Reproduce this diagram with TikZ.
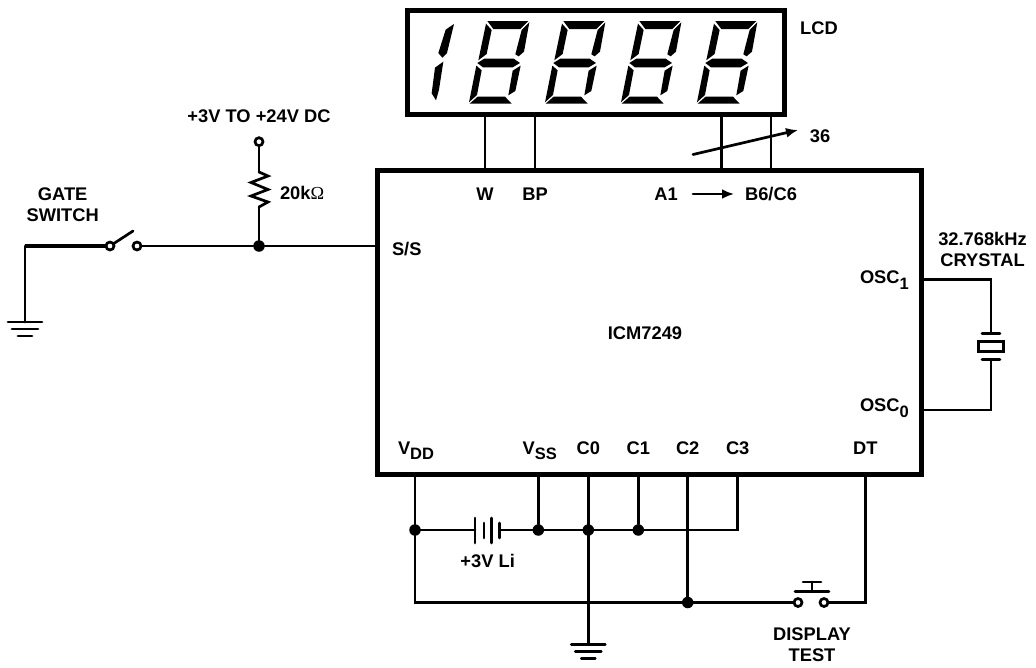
\documentclass[tikz,border=0pt]{standalone}
\usepackage{fontspec}
\setmainfont{Liberation Sans}
\newfontfamily\omegafont{Liberation Serif}
\usetikzlibrary{calc}
\usetikzlibrary{arrows.meta}
\tikzset{
    wire/.style={line width=2.7pt,line cap=round,line join=miter},
    heavywire/.style={line width=3.6pt},
    boxline/.style={draw,line width=5pt,rectangle,inner sep=0pt,outer sep=0pt},
    pinlabel/.style={inner sep=0pt,outer sep=0pt,align=center,font=\fontsize{18.3}{21}\selectfont\bfseries},
    junction/.style={circle,fill=black,inner sep=0pt,outer sep=0pt,minimum size=11.5pt},
    contact/.style={circle,draw,fill=white,line width=2.7pt,inner sep=0pt,outer sep=0pt,minimum size=8pt},
    segment/.style={fill=black,draw=none},
    pointer/.style={wire,-{Latex[length=12pt,width=10pt]}}
}
% subscript as printed on the pin labels
\newcommand{\lowtext}[1]{\raisebox{-0.32em}{\fontsize{16.5}{16.5}\selectfont #1}}
% three bars of a ground symbol
\newcommand{\groundbars}[1]{
    \draw[wire] ($(#1)+(-17,0)$) -- ($(#1)+(17,0)$);
    \draw[wire] ($(#1)+(-13,7)$) -- ($(#1)+(13,7)$);
    \draw[wire] ($(#1)+(-7,14)$) -- ($(#1)+(7,14)$);
}
% seven segments of one digit, drawn in units of a third of a pixel
\newcommand{\digitsegs}{
    \fill[segment] (187,18) -- (310,18) -- (286,42) -- (205,42) -- cycle;
    \fill[segment] (183,26) -- (200,45) -- (185,117) -- (160,136) -- cycle;
    \fill[segment] (313,22) -- (297,110) -- (281,124) -- (271,118) -- (290,45) -- cycle;
    \fill[segment] (157,144) -- (178,131) -- (266,131) -- (285,144) -- (263,157) -- (174,157) -- cycle;
    \fill[segment] (154,152) -- (170,166) -- (156,240) -- (132,262) -- cycle;
    \fill[segment] (287,152) -- (271,228) -- (250,241) -- (263,167) -- cycle;
    \fill[segment] (134,266) -- (158,245) -- (240,245) -- (260,266) -- cycle;
}
\begin{document}
\begin{tikzpicture}[x=1pt,y=-1pt]
    \useasboundingbox (0,0) rectangle (1036,667);
    % display and chip
    \node[boxline,minimum width=377pt,minimum height=104pt] (lcd) at (596,62) {};
    \node[boxline,minimum width=544pt,minimum height=304pt] (chip) at (649.5,322) {};
    \begin{scope}[shift={(425,15)},x=0.3333pt,y=-0.3333pt]
        \fill[segment] (87,27) -- (62,44) -- (40,114) -- (52,128) -- (66,114) -- cycle;
        \fill[segment] (55,140) -- (30,158) -- (20,235) -- (33,256) -- (42,224) -- cycle;
        \foreach \dx in {0,228,456,684} {
            \begin{scope}[xshift=\dx*0.3333pt]
                \digitsegs
            \end{scope}
        }
    \end{scope}
    \node[pinlabel] (lcdname) at (819,28) {LCD};
    \node[pinlabel] (icname) at (645,333) {ICM7249};
    % top pins
    \node[pinlabel] (w) at (485,194) {W};
    \node[pinlabel] (bp) at (535,194) {BP};
    \node[pinlabel] (aone) at (666,194) {A1};
    \node[pinlabel] (bsix) at (771,194) {B6/C6};
    \coordinate (afirst) at (721.7,170);
    \draw[wire] (w |- lcd.south) -- (w |- chip.north);
    \draw[wire] (bp |- lcd.south) -- (bp |- chip.north);
    \draw[wire] (afirst |- lcd.south) -- (afirst);
    \draw[wire] (bsix |- lcd.south) -- (bsix |- chip.north);
    \coordinate (slantA) at (693,154.5);
    \coordinate (slantB) at (798,130);
    \draw[pointer] (slantA) -- (slantB);
    \node[pinlabel] (count) at (820,136) {36};
    \coordinate (spanA) at (693,194);
    \coordinate (spanB) at (734,194);
    \draw[pointer] (spanA) -- (spanB);
    % gate switch side
    \node[pinlabel] (gate) at (62.7,204.5) {GATE\\SWITCH};
    \node[pinlabel] (supply) at (259,116) {+3V TO +24V DC};
    \node[pinlabel,anchor=west] (rval) at (280,193) {20k{\omegafont\mdseries Ω}};
    \node[pinlabel,anchor=west] (ss) at (392,249) {S/S};
    \node[junction] (gatejoin) at (259,246) {};
    \node[contact] (swA) at (110,246) {};
    \node[contact] (swB) at (137,246) {};
    \node[contact] (vin) at (259,141.7) {};
    \coordinate (corner) at (25,246);
    \coordinate (gndA) at (25,322);
    \coordinate (bladeEnd) at (133,231);
    \coordinate (rtop) at (259,172);
    \coordinate (rbot) at (259,207);
    \draw[heavywire] (swA) -- (corner);
    \draw[wire] (corner) -- (gndA);
    \groundbars{gndA}
    \draw[wire] (swA) -- (bladeEnd);
    \draw[wire] (swB) -- (gatejoin);
    \draw[wire] (gatejoin) -- (gatejoin -| chip.west);
    \draw[wire] (vin) -- (rtop);
    \draw[wire] (rtop) -- ++(9,4) -- ++(-17,6.5) -- ++(17,7) -- ++(-17,6.5) -- ++(17,6) -- (rbot);
    \draw[wire] (rbot) -- (gatejoin);
    % crystal
    \node[pinlabel] (xtal) at (982.5,249) {32.768kHz\\CRYSTAL};
    \node[pinlabel,anchor=west] (oscB) at (860,280) {OSC\lowtext{1}};
    \node[pinlabel,anchor=west] (oscA) at (860,408) {OSC\lowtext{0}};
    \node[draw,rectangle,line width=2.7pt,minimum width=25pt,minimum height=10pt,inner sep=0pt,outer sep=0pt] (quartz) at (991,346.3) {};
    \coordinate (plateT) at (991,333.5);
    \coordinate (plateB) at (991,359.3);
    \coordinate (oscTop) at (991,279.5);
    \coordinate (oscBot) at (991,410);
    \draw[wire] (oscTop -| chip.east) -- (oscTop) -- (plateT);
    \draw[wire] (oscBot -| chip.east) -- (oscBot) -- (plateB);
    \draw[wire] ($(plateT)+(-9,0)$) -- ($(plateT)+(9,0)$);
    \draw[wire] ($(plateB)+(-9,0)$) -- ($(plateB)+(9,0)$);
    % bottom pins
    \node[pinlabel,anchor=base west] (vdd) at (398,454) {V\lowtext{DD}};
    \node[pinlabel,anchor=base west] (vss) at (522.7,454) {V\lowtext{SS}};
    \node[pinlabel] (czero) at (588.3,448) {C0};
    \node[pinlabel] (cone) at (638.3,448) {C1};
    \node[pinlabel] (ctwo) at (687.7,448) {C2};
    \node[pinlabel] (cthree) at (737.7,448) {C3};
    \node[pinlabel] (dt) at (865.3,448) {DT};
    \node[junction] (jvdd) at (415,530) {};
    \node[junction] (jvss) at (538.3,530) {};
    \node[junction] (jczero) at (588.3,530) {};
    \node[junction] (jcone) at (638.3,530) {};
    \node[junction] (jctwo) at (687.7,602.5) {};
    \node[contact] (dtA) at (798,602.5) {};
    \node[contact] (dtB) at (824,602.5) {};
    \coordinate (vddlow) at (415,602.5);
    \coordinate (cthreelow) at (737.7,530);
    \coordinate (dtlow) at (865.3,602.5);
    \coordinate (gndB) at (588.3,644.5);
    \draw[wire] (jvdd |- chip.south) -- (jvdd) -- (vddlow) -- (jctwo);
    \draw[wire] (jctwo) -- (dtA);
    \draw[wire] (dtB) -- (dtlow) -- (dtlow |- chip.south);
    \draw[wire] (jvss |- chip.south) -- (jvss);
    \draw[wire] (jczero |- chip.south) -- (gndB);
    \groundbars{gndB}
    \draw[wire] (jcone |- chip.south) -- (jcone);
    \draw[wire] (jctwo |- chip.south) -- (jctwo);
    \draw[wire] (cthreelow |- chip.south) -- (cthreelow) -- (jvss);
    % battery
    \coordinate (cellA) at (475,530);
    \coordinate (cellB) at (499.3,530);
    \draw[wire] (jvdd) -- (cellA);
    \draw[wire] (cellB) -- (jvss);
    \draw[wire] (475,518) -- (475,543);
    \draw[wire] (484,523) -- (484,538);
    \draw[wire] (491.7,518) -- (491.7,543);
    \draw[wire] (499.3,523) -- (499.3,538);
    \node[pinlabel] (cellname) at (487.7,560.7) {+3V Li};
    % push button
    \coordinate (stemA) at (812,591.3);
    \coordinate (stemB) at (812,582);
    \draw[wire] ($(stemA)+(-17,0)$) -- ($(stemA)+(17,0)$);
    \draw[wire] (stemA) -- (stemB);
    \draw[wire] ($(stemB)+(-9,0)$) -- ($(stemB)+(9,0)$);
    \node[pinlabel] (dtname) at (812,645) {DISPLAY\\TEST};
\end{tikzpicture}
\end{document}
